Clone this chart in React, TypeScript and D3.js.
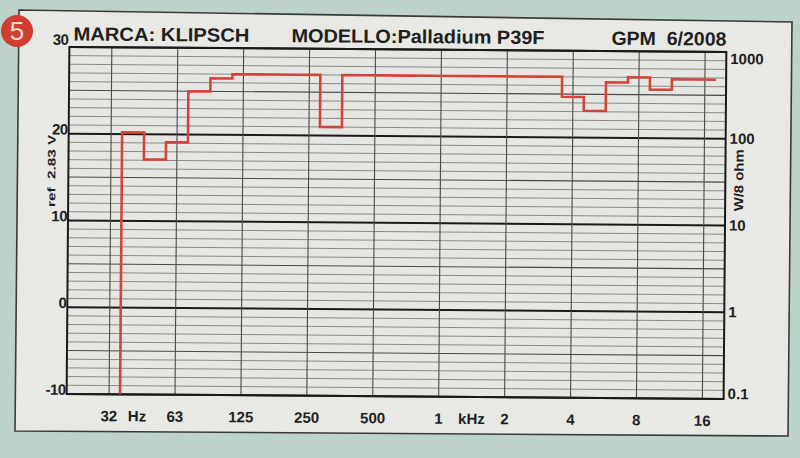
import React from 'react';
import * as d3 from 'd3';

// 1/3-octave band centres (Hz) and measured levels (dB ref 2.83 V)
const bandCentersHz = [40, 50, 63, 80, 100, 125, 160, 200, 250, 315, 400, 500, 630, 800, 1000, 1250, 1600, 2000, 2500, 3150, 4000, 5000, 6300, 8000, 10000, 12500, 16000];
const bandLevelsDb = [20.2, 17.1, 19.1, 25.0, 26.5, 27, 27, 27, 27, 21, 27, 27, 27, 27, 27, 27, 27, 27, 27, 27, 24.7, 23.1, 26.4, 27, 25.6, 26.8, 26.8];

const freqGridHz = [31.25, 62.5, 125, 250, 500, 1000, 2000, 4000, 8000, 16000];
const freqTickLabels = ['32', '63', '125', '250', '500', '1', '2', '4', '8', '16'];
const unitPositionsHz = [42, 1414];
const unitLabels = ['Hz', 'kHz'];
const dbTicks = [30, 20, 10, 0, -10];
const powerTicks = [1000, 100, 10, 1, 0.1];
const powerTickLabels = ['1000', '100', '10', '1', '0.1'];
const titleTexts = ['MARCA: KLIPSCH', 'MODELLO:Palladium P39F', 'GPM  6/2008'];
const leftAxisTitle = 'ref  2.83 V';
const rightAxisTitle = 'W/8 ohm';
const badgeText = '5';

const W = 800;
const H = 458;
const FONT = "'Liberation Sans', Arial, Helvetica, sans-serif";
const INK = '#1f1f1f';
const RED = '#d2453a';

export default function App() {
  const left = 68, right = 725, top = 49.5, bottom = 396.5;
  const x = d3.scaleLog().domain([20, 20000]).range([left, right]);
  const y = d3.scaleLinear().domain([-10, 30]).range([bottom, top]);
  const yPow = d3.scaleLog().domain([0.1, 1000]).range([bottom, top]);

  // exact 1/3-octave centres and band edges
  const exact = (f: number) => 1000 * Math.pow(2, Math.round(3 * Math.log2(f / 1000)) / 3);
  const pts: [number, number][] = [];
  bandCentersHz.forEach((fc, i) => {
    const c = exact(fc);
    const lo = c / Math.pow(2, 1 / 6);
    const hi = c * Math.pow(2, 1 / 6);
    if (i === 0) pts.push([lo, y.domain()[0]]);
    pts.push([lo, bandLevelsDb[i]]);
    pts.push([hi, bandLevelsDb[i]]);
  });
  const line = d3.line<[number, number]>().x(d => x(d[0])).y(d => y(d[1]));

  const hLines = d3.range(-10, 31, 1);

  return (
    <svg width={W} height={H} viewBox={`0 0 ${W} ${H}`} style={{ position: 'absolute', left: 0, top: 0 }}>
      <rect x={0} y={0} width={W} height={H} fill="#bdd3c9" />
      <polygon points="19,10 792,22 788,436 15,431" fill="#e8e8e4" stroke="#3a3a3a" strokeWidth={1.6} />
      <g transform="rotate(0.45 400 222)" fontFamily={FONT} fontWeight="bold" fill={INK}>
        <rect x={left} y={top} width={right - left} height={bottom - top} fill="#e6e6e2" />
        {hLines.map(v => {
          const major = v % 10 === 0;
          const mid = !major && v % 5 === 0;
          return (
            <line key={'h' + v} x1={left} x2={right} y1={y(v)} y2={y(v)}
              stroke={major ? '#1a1a1a' : mid ? '#4a4a4a' : '#808080'}
              strokeWidth={major ? 2 : mid ? 1.2 : 0.9} />
          );
        })}
        {freqGridHz.map(f => (
          <line key={'v' + f} x1={x(f)} x2={x(f)} y1={top} y2={bottom} stroke="#4a4a4a" strokeWidth={1.1} />
        ))}
        <rect x={left} y={top} width={right - left} height={bottom - top} fill="none" stroke="#1a1a1a" strokeWidth={2} />
        <path d={line(pts) || ''} fill="none" stroke={RED} strokeWidth={2.6} strokeLinejoin="miter" />

        {titleTexts.map((t, i) => (
          <text key={t} x={[72, 290, 610][i]} y={43} fontSize={19} style={{ whiteSpace: 'pre' }}
            textLength={[176, 253, 115][i]} lengthAdjust="spacingAndGlyphs">{t}</text>
        ))}

        {dbTicks.map((v, i) => (
          <text key={'db' + v} x={left - 1} y={i === 0 ? y(v) - 2 : y(v) + 1} fontSize={15} textAnchor="end"
            letterSpacing={-0.5}>{v}</text>
        ))}
        {powerTicks.map((v, i) => (
          <text key={'p' + v} x={right + 4} y={Math.min(Math.max(yPow(v) + 5, top + 12), bottom)} fontSize={15}>
            {powerTickLabels[i]}
          </text>
        ))}
        {freqGridHz.map((f, i) => (
          <text key={'f' + f} x={x(f)} y={bottom + 27} fontSize={15} textAnchor="middle">{freqTickLabels[i]}</text>
        ))}
        {unitPositionsHz.map((f, i) => (
          <text key={'u' + f} x={x(f)} y={bottom + 27} fontSize={15} textAnchor="middle">{unitLabels[i]}</text>
        ))}
        <text transform={`translate(55,${(y(20) + y(10)) / 2 - 6}) rotate(-90)`} fontSize={11} textAnchor="middle"
          textLength={72} lengthAdjust="spacingAndGlyphs" style={{ whiteSpace: 'pre' }}>{leftAxisTitle}</text>
        <text transform={`translate(743,${(yPow(100) + yPow(10)) / 2 - 2}) rotate(-90)`} fontSize={13} textAnchor="middle"
          textLength={62} lengthAdjust="spacingAndGlyphs">{rightAxisTitle}</text>
      </g>
      <circle cx={17} cy={31} r={16} fill="#cf3e33" />
      <text x={17} y={40} fontSize={26} fontFamily={FONT} textAnchor="middle" fill="#f5ddd7">{badgeText}</text>
    </svg>
  );
}
